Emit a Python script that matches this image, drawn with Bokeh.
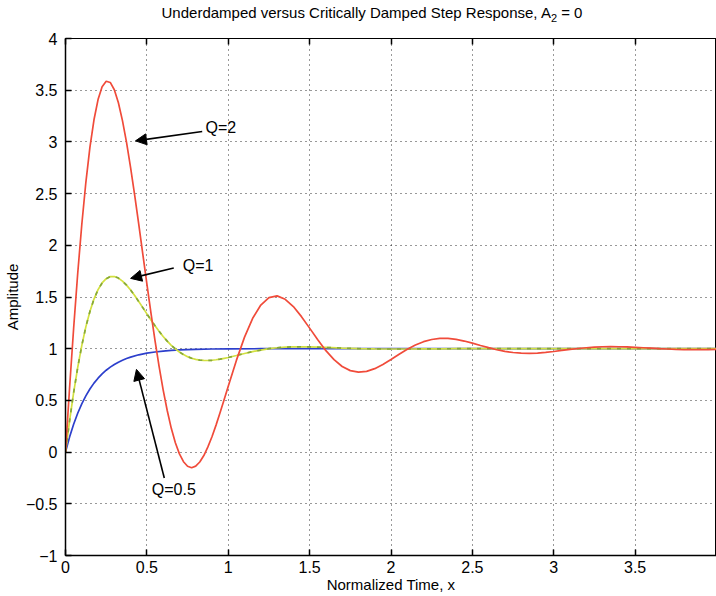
from bokeh.plotting import figure
from bokeh.layouts import column
from bokeh.models import (LinearAxis, FixedTicker, Arrow, NormalHead, Label, CustomJSTickFormatter, Div)
from bokeh.embed import file_html
from bokeh.resources import INLINE

# ---------------- data ----------------
red_x = [0.0, 0.025, 0.05, 0.075, 0.1, 0.125, 0.15, 0.175, 0.2, 0.225, 0.25, 0.275, 0.3,
         0.325, 0.35, 0.375, 0.4, 0.425, 0.45, 0.475, 0.5, 0.525, 0.55, 0.575, 0.6, 0.625,
         0.65, 0.675, 0.7, 0.725, 0.75, 0.775, 0.8, 0.825, 0.85, 0.875, 0.9, 0.925, 0.95,
         0.975, 1.0, 1.05, 1.1, 1.15, 1.2, 1.25, 1.3, 1.35, 1.4, 1.45, 1.5, 1.55, 1.6, 1.65,
         1.7, 1.75, 1.8, 1.85, 1.9, 1.95, 2.0, 2.05, 2.1, 2.15, 2.2, 2.25, 2.3, 2.35, 2.4,
         2.45, 2.5, 2.55, 2.6, 2.65, 2.7, 2.75, 2.8, 2.85, 2.9, 2.95, 3.0, 3.05, 3.1, 3.15,
         3.2, 3.25, 3.3, 3.35, 3.4, 3.45, 3.5, 3.55, 3.6, 3.65, 3.7, 3.75, 3.8, 3.85, 3.9,
         3.95, 4.0]
red_q2 = [0.000, 0.620, 1.198, 1.727, 2.199, 2.607, 2.947, 3.214, 3.409, 3.533, 3.587, 3.575,
          3.504, 3.379, 3.206, 2.995, 2.752, 2.486, 2.204, 1.915, 1.628, 1.347, 1.079, 0.829,
          0.602, 0.402, 0.230, 0.090, -0.017, -0.093, -0.137, -0.151, -0.136, -0.096, -0.033,
          0.050, 0.149, 0.261, 0.382, 0.508, 0.637, 0.887, 1.112, 1.294, 1.422, 1.494, 1.511,
          1.478, 1.408, 1.310, 1.199, 1.086, 0.981, 0.894, 0.828, 0.788, 0.773, 0.781, 0.807,
          0.847, 0.895, 0.946, 0.994, 1.035, 1.068, 1.089, 1.100, 1.100, 1.090, 1.074, 1.054,
          1.031, 1.010, 0.990, 0.974, 0.963, 0.957, 0.955, 0.958, 0.964, 0.973, 0.983, 0.993,
          1.002, 1.009, 1.015, 1.019, 1.020, 1.019, 1.017, 1.013, 1.009, 1.005, 1.000, 0.997,
          0.994, 0.992, 0.991, 0.991, 0.992, 0.993]

green_x = [0.0, 0.025, 0.05, 0.075, 0.1, 0.125, 0.15, 0.175, 0.2, 0.225, 0.25, 0.275, 0.3,
           0.325, 0.35, 0.375, 0.4, 0.425, 0.45, 0.475, 0.5, 0.525, 0.55, 0.575, 0.6, 0.625,
           0.65, 0.675, 0.7, 0.725, 0.75, 0.775, 0.8, 0.825, 0.85, 0.875, 0.9, 0.925, 0.95,
           0.975, 1.0, 1.05, 1.1, 1.15, 1.2, 1.25, 1.3, 1.35, 1.4, 1.45, 1.5, 1.55, 1.6, 1.7,
           1.8, 1.9, 2.0, 2.1, 2.2, 2.3, 2.4, 2.6, 3.0, 3.5, 4.0]
green_q1 = [0.000, 0.301, 0.575, 0.818, 1.030, 1.211, 1.360, 1.480, 1.571, 1.636, 1.677, 1.697,
            1.698, 1.683, 1.654, 1.615, 1.567, 1.514, 1.456, 1.397, 1.337, 1.278, 1.221, 1.168,
            1.118, 1.073, 1.033, 0.998, 0.968, 0.943, 0.923, 0.908, 0.897, 0.890, 0.887, 0.886,
            0.888, 0.893, 0.899, 0.907, 0.915, 0.934, 0.954, 0.972, 0.987, 1.000, 1.009, 1.015,
            1.018, 1.019, 1.018, 1.015, 1.012, 1.006, 1.001, 0.998, 0.997, 0.997, 0.998, 0.999,
            1.000, 1.000, 1.000, 1.000, 1.000]

blue_x = [0.0, 0.025, 0.05, 0.075, 0.1, 0.125, 0.15, 0.175, 0.2, 0.225, 0.25, 0.275, 0.3,
          0.325, 0.35, 0.375, 0.4, 0.45, 0.5, 0.55, 0.6, 0.65, 0.7, 0.75, 0.8, 0.9, 1.0, 1.2,
          1.5, 2.0, 3.0, 4.0]
blue_q05 = [0.000, 0.145, 0.270, 0.376, 0.467, 0.544, 0.610, 0.667, 0.715, 0.757, 0.792, 0.822,
            0.848, 0.870, 0.889, 0.905, 0.919, 0.941, 0.957, 0.968, 0.977, 0.983, 0.988, 0.991,
            0.993, 0.997, 0.998, 1.000, 1.000, 1.000, 1.000, 1.000]

x_ticks = [0, 0.5, 1, 1.5, 2, 2.5, 3, 3.5, 4]
x_tick_labels = {4: ""}
y_ticks = [-1, -0.5, 0, 0.5, 1, 1.5, 2, 2.5, 3, 3.5, 4]
y_tick_labels = {-1: "\u22121", -0.5: "\u22120.5"}

title_html = ("Underdamped versus Critically Damped Step Response, A"
              "<sub style='font-size:11px'>2</sub> = 0")

# annotations: (label, text x, text y, arrow tail x, tail y, tip x, tip y)
notes = [
    ("Q=2", 0.86, 3.14, 0.84, 3.10, 0.43, 3.01),
    ("Q=1", 0.72, 1.80, 0.665, 1.78, 0.40, 1.68),
    ("Q=0.5", 0.53, -0.36, 0.607, -0.25, 0.436, 0.80),
]

FONT = "Liberation Sans"

title = Div(text=title_html, width=716, height=22, margin=(0, 0, 0, 0),
            styles={"font-family": FONT, "font-size": "15px", "color": "black",
                    "text-align": "center", "width": "716px", "padding-top": "4px",
                    "padding-left": "28px", "box-sizing": "border-box", "line-height": "18px"})

p = figure(width=716, height=574, x_range=(0, 4), y_range=(-1, 4),
           output_backend="svg", toolbar_location=None, margin=(0, 0, 0, 0),
           min_border_left=65, min_border_right=0, min_border_top=16, min_border_bottom=41)
p.background_fill_color = "white"
p.border_fill_color = "white"
p.outline_line_color = "black"
p.outline_line_width = 1

for ax in (p.xaxis[0], p.yaxis[0]):
    ax.major_tick_in = 6
    ax.major_tick_out = 0
    ax.minor_tick_in = 0
    ax.minor_tick_out = 0
    ax.axis_line_color = "black"
    ax.axis_line_width = 1.5
    ax.major_tick_line_color = "black"
    ax.major_tick_line_width = 1.5
    ax.major_label_text_font = FONT
    ax.major_label_text_font_size = "16px"
    ax.major_label_text_color = "black"
    ax.axis_label_text_font = FONT
    ax.axis_label_text_font_size = "15px"
    ax.axis_label_text_font_style = "normal"
    ax.axis_label_text_color = "black"

p.xaxis[0].ticker = FixedTicker(ticks=x_ticks)
p.xaxis[0].major_label_overrides = x_tick_labels
p.yaxis[0].ticker = FixedTicker(ticks=y_ticks)
p.yaxis[0].major_label_overrides = y_tick_labels
p.xaxis[0].axis_label = "Normalized Time, x"
p.yaxis[0].axis_label = "Amplitude"
p.xaxis[0].major_label_standoff = 5
p.yaxis[0].major_label_standoff = 8
p.xaxis[0].axis_label_standoff = 0
p.yaxis[0].axis_label_standoff = 2

top = LinearAxis(ticker=FixedTicker(ticks=x_ticks), major_tick_in=6, major_tick_out=0,
                 minor_tick_in=0, minor_tick_out=0,
                 formatter=CustomJSTickFormatter(code="return ''"),
                 axis_line_color="black", major_tick_line_color="black", major_tick_line_width=1.5)
p.add_layout(top, "above")

for g in (p.xgrid[0], p.ygrid[0]):
    g.grid_line_color = "black"
    g.grid_line_alpha = 0.8
    g.grid_line_dash = "1 4"
    g.grid_line_width = 1
p.xgrid[0].ticker = FixedTicker(ticks=x_ticks)
p.ygrid[0].ticker = FixedTicker(ticks=y_ticks)

p.line(blue_x, blue_q05, line_color="#2c3fcc", line_width=1.7)
p.line(green_x, green_q1, line_color="#d2e040", line_width=1.7)
p.line(green_x, green_q1, line_color="#86a83a", line_width=1.7, line_dash="4 6")
p.line(red_x, red_q2, line_color="#f04b3a", line_width=1.7)

for txt, tx, ty, x0, y0, x1, y1 in notes:
    p.add_layout(Arrow(end=NormalHead(size=11, fill_color="black", line_color="black"),
                       x_start=x0, y_start=y0, x_end=x1, y_end=y1,
                       line_color="black", line_width=1.6))
    p.add_layout(Label(x=tx, y=ty, text=txt, text_font=FONT, text_font_size="16px",
                       text_baseline="middle", text_align="left", text_color="black"))

layout = column(title, p, spacing=0, margin=(0, 0, 0, 0))
open("out.html", "w").write(file_html(layout, INLINE))
